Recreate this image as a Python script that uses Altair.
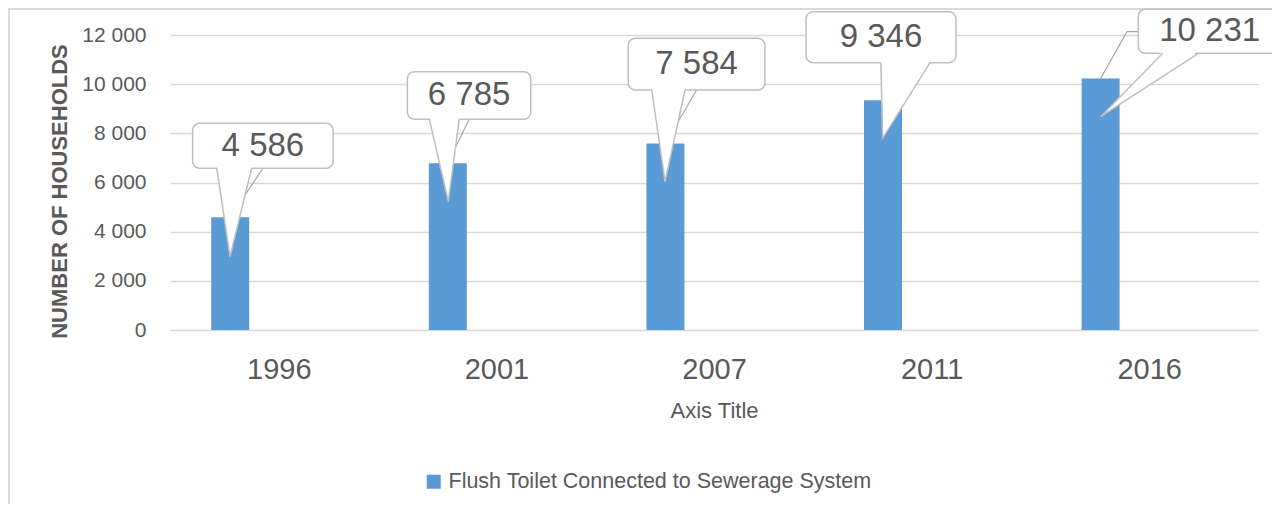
import altair as alt
import pandas as pd

# ---- data ----
years = ["1996", "2001", "2007", "2011", "2016"]
households = [4586, 6785, 7584, 9346, 10231]
series_name = "Flush Toilet Connected to Sewerage System"
y_ticks = [0, 2000, 4000, 6000, 8000, 10000, 12000]

# callout geometry in data units (x: category-index units, category i centred at i+0.5; y: households)
box_x1 = [0.104, 1.091, 2.106, 2.923, 4.450]
box_x2 = [0.750, 1.658, 2.734, 3.612, 5.106]
box_y1 = [6578, 8571, 9763, 10873, 11256]
box_y2 = [8408, 10507, 11866, 12948, 13046]
base_x1 = [0.215, 1.192, 2.214, 3.267, 4.562]
base_x2 = [0.375, 1.329, 2.367, 3.493, 4.726]
tip_x = [0.276, 1.279, 2.275, 3.275, 4.277]
tip_y = [2982, 5219, 6033, 7798, 8677]
# leader lines (box -> bar top)
leader_x = [0.427, 1.375, 2.420, 3.267, 4.450]
leader_y = [6578, 8571, 9763, 10873, 12134]
leader_elbow_x = [None, None, None, None, 4.398]

BAR_SHIFT = 0.2233  # bar sits left of the category centre (other series slots empty)

FONT = "Liberation Sans"
TXT = "#595959"
GRID = "#D9D9D9"
BAR = "#5B9BD5"
CALLOUT = "#BFBFBF"
LEADER = "#A6A6A6"

def fmt(v):
    return f"{v:,}".replace(",", " ")

bar_df = pd.DataFrame({
    "year": years,
    "pos": [i + 0.5 - BAR_SHIFT for i in range(len(years))],
    "value": households,
    "series": series_name,
})

box_df = pd.DataFrame({
    "year": years,
    "x1": box_x1, "x2": box_x2, "y1": box_y1, "y2": box_y2,
    "xc": [(a + b) / 2 for a, b in zip(box_x1, box_x2)],
    "yc": [(a + b) / 2 for a, b in zip(box_y1, box_y2)],
    "label": [fmt(v) for v in households],
})

area_rows, line_rows, lead_rows = [], [], []
for i, yr in enumerate(years):
    area_rows.append({"year": yr, "y": box_y1[i] + 90, "x": base_x1[i], "x2": base_x2[i]})
    area_rows.append({"year": yr, "y": tip_y[i], "x": tip_x[i], "x2": tip_x[i]})
    line_rows.append({"year": yr, "o": 0, "x": base_x1[i], "y": box_y1[i]})
    line_rows.append({"year": yr, "o": 1, "x": tip_x[i], "y": tip_y[i]})
    line_rows.append({"year": yr, "o": 2, "x": base_x2[i], "y": box_y1[i]})
    lead_rows.append({"year": yr, "o": 0, "x": leader_x[i], "y": leader_y[i]})
    if leader_elbow_x[i] is not None:
        lead_rows.append({"year": yr, "o": 1, "x": leader_elbow_x[i], "y": leader_y[i]})
    lead_rows.append({"year": yr, "o": 2, "x": i + 0.5 - BAR_SHIFT, "y": households[i]})
area_df = pd.DataFrame(area_rows)
line_df = pd.DataFrame(line_rows)
lead_df = pd.DataFrame(lead_rows)

x_scale = alt.Scale(domain=[0, len(years)], nice=False, zero=False, padding=0)
y_scale = alt.Scale(domain=[0, 12000], nice=False, padding=0)

year_array = "[" + ",".join(f'"{y}"' for y in years) + "]"

x_axis = alt.Axis(
    values=[i + 0.5 for i in range(len(years))],
    labelExpr=f"{year_array}[floor(datum.value)]",
    title="Axis Title", grid=False, ticks=False, tickSize=0, domain=False,
    labelFontSize=29, labelColor=TXT, labelFont=FONT, labelPadding=25,
    titleFontSize=22, titleColor=TXT, titleFont=FONT, titleFontWeight="normal",
    titleY=70, titleBaseline="top",
)
y_axis = alt.Axis(
    values=y_ticks,
    labelExpr="replace(format(datum.value, ','), ',', ' ')",
    title="NUMBER OF HOUSEHOLDS", grid=True, gridColor=GRID, gridWidth=1.5,
    ticks=False, tickSize=0, domain=False,
    labelFontSize=21, labelColor=TXT, labelFont=FONT, labelPadding=24,
    titleFontSize=22, titleColor=TXT, titleFont=FONT, titleFontWeight="bold",
    titleX=-104, titleY=156, titleBaseline="alphabetic", titleAlign="center", titleAngle=270,
)

bars = alt.Chart(bar_df).mark_bar(width=38).encode(
    x=alt.X("pos:Q", scale=x_scale, axis=x_axis),
    y=alt.Y("value:Q", scale=y_scale, axis=y_axis),
    color=alt.Color("series:N", scale=alt.Scale(range=[BAR]), legend=alt.Legend(
        title=None, orient="none", legendX=253, legendY=436, padding=0,
        symbolType="square", symbolSize=196, symbolStrokeWidth=0,
        labelFontSize=21.5, labelColor=TXT, labelFont=FONT, labelOffset=4, labelLimit=0,
    )),
)

leaders = alt.Chart(lead_df).mark_line(color=LEADER, strokeWidth=1.2).encode(
    x=alt.X("x:Q", scale=x_scale, axis=x_axis),
    y=alt.Y("y:Q", scale=y_scale, axis=y_axis),
    order="o:Q",
    detail="year:N",
)

boxes = alt.Chart(box_df).mark_rect(
    fill="white", stroke=CALLOUT, strokeWidth=1.5, cornerRadius=7
).encode(
    x=alt.X("x1:Q", scale=x_scale, axis=x_axis),
    x2="x2:Q",
    y=alt.Y("y1:Q", scale=y_scale, axis=y_axis),
    y2="y2:Q",
)

pointer_fill = alt.Chart(area_df).mark_area(
    orient="horizontal", fill="white"
).encode(
    y=alt.Y("y:Q", scale=y_scale, axis=y_axis),
    x=alt.X("x:Q", scale=x_scale, axis=x_axis),
    x2="x2:Q",
    detail="year:N",
)

pointer_line = alt.Chart(line_df).mark_line(
    color=CALLOUT, strokeWidth=1.5
).encode(
    x=alt.X("x:Q", scale=x_scale, axis=x_axis),
    y=alt.Y("y:Q", scale=y_scale, axis=y_axis),
    order="o:Q",
    detail="year:N",
)

labels = alt.Chart(box_df).mark_text(
    fontSize=33, color=TXT, font=FONT, align="center", baseline="middle"
).encode(
    x=alt.X("xc:Q", scale=x_scale, axis=x_axis),
    y=alt.Y("yc:Q", scale=y_scale, axis=y_axis),
    text="label:N",
)

# chart-area frame (left and top edges visible in the reference)
frame_left = alt.Chart(bar_df).mark_rule(color=GRID, strokeWidth=2).encode(
    x=alt.value(-161), y=alt.value(-27), y2=alt.value(476)
)
frame_top = alt.Chart(bar_df).mark_rule(color=GRID, strokeWidth=2).encode(
    x=alt.value(-162), x2=alt.value(1102), y=alt.value(-26)
)

chart = alt.layer(
    frame_left, frame_top, bars, leaders, boxes, pointer_fill, pointer_line, labels
).properties(
    width=1088, height=295,
    autosize=alt.AutoSizeParams(type="none"),
    padding={"left": 162, "top": 27, "right": 14, "bottom": 174},
    background="white",
).configure(font=FONT).configure_view(stroke=None)

chart.save("out.html", embed_options={"renderer": "svg", "actions": False})
